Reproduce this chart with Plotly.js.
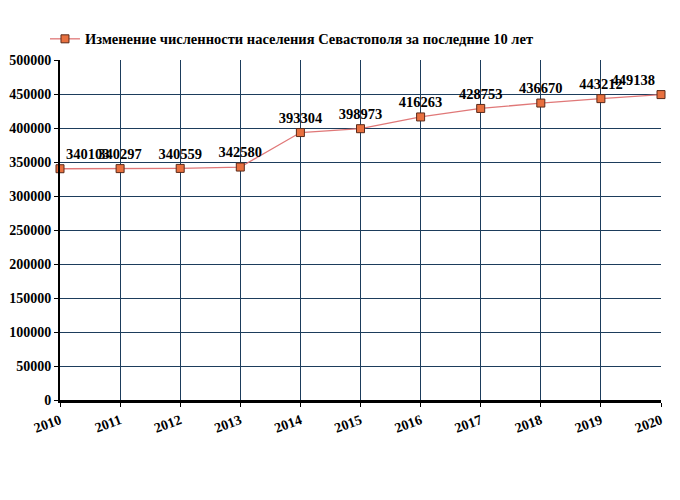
<!DOCTYPE html>
<html><head><meta charset="utf-8">
<script src="https://cdn.plot.ly/plotly-3.0.1.min.js"></script>
<style>body{margin:0;background:#fff}#c{width:680px;height:500px}</style>
</head><body><div id="c"></div>
<script>
var years = [2010,2011,2012,2013,2014,2015,2016,2017,2018,2019,2020];
var population = [340103,340297,340559,342580,393304,398973,416263,428753,436670,443212,449138];
var seriesName = 'Изменение численности населения Севастополя за последние 10 лет';
var yTicks = [0,50000,100000,150000,200000,250000,300000,350000,400000,450000,500000];

var fontF = '"Liberation Serif", "DejaVu Serif", serif';
var positions = years.map(function(_, i){
  return i === 0 ? 'top right' : (i === years.length - 1 ? 'top left' : 'top center');
});
Plotly.newPlot('c', [{
  x: years, y: population, type: 'scatter', mode: 'lines+markers+text',
  name: seriesName,
  text: population.map(String), textposition: positions,
  textfont: {family: fontF, size: 14.5, color: '#000', weight: 'bold'},
  line: {color: '#e07878', width: 1.3},
  marker: {symbol: 'square', size: 8, color: '#e8703f', line: {color: '#5a2a1a', width: 1}},
  cliponaxis: false
}], {
  width: 680, height: 500,
  margin: {l: 60, r: 19, t: 60, b: 100},
  paper_bgcolor: '#fff', plot_bgcolor: '#fff',
  showlegend: true,
  legend: {x: -0.025, y: 1.015, xanchor: 'left', yanchor: 'bottom', orientation: 'h',
    font: {family: fontF, size: 14.5, color: '#000', weight: 'bold'}, itemwidth: 30},
  xaxis: {range: [2010, 2020], tickvals: years, ticktext: years.map(String), tickangle: -20,
    showgrid: true, gridcolor: '#1d3d5c', gridwidth: 1,
    showline: true, linecolor: '#000', linewidth: 3, ticks: 'outside', ticklen: 4, tickcolor: '#000',
    tickfont: {family: fontF, size: 14, color: '#000', weight: 'bold'}, zeroline: false},
  yaxis: {range: [0, 500000], tickvals: yTicks, ticktext: yTicks.map(String),
    showgrid: true, gridcolor: '#1d3d5c', gridwidth: 1,
    showline: true, linecolor: '#000', linewidth: 2, ticks: 'outside', ticklen: 4, tickcolor: '#000',
    tickfont: {family: fontF, size: 14, color: '#000', weight: 'bold'}, zeroline: false}
}, {staticPlot: true});
</script></body></html>
